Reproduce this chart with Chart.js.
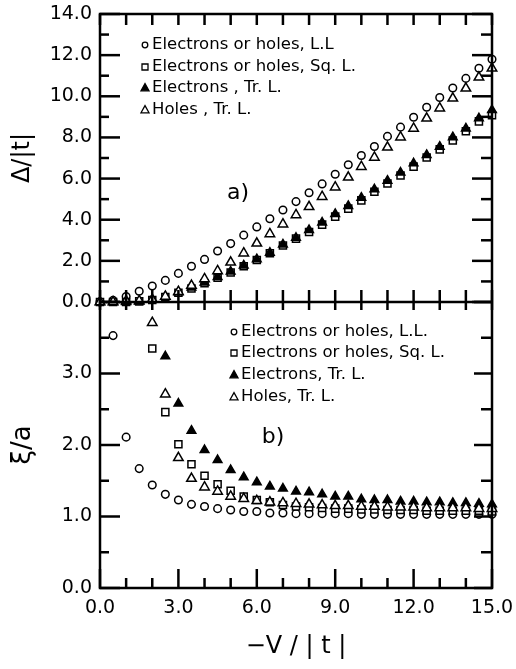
<!DOCTYPE html>
<html>
<head>
<meta charset="utf-8">
<script src="https://cdn.jsdelivr.net/npm/chart.js@4"></script>
<style>
  html, body { margin: 0; padding: 0; background: #fff; }
  canvas { display: block; }
</style>
</head>
<body>
<canvas id="myChart" width="516" height="669"></canvas>
<script>
// panel a) : gap vs -V/|t|
var xTop = [0, 0.5, 1, 1.5, 2, 2.5, 3, 3.5, 4, 4.5, 5, 5.5, 6, 6.5, 7, 7.5, 8, 8.5, 9, 9.5, 10, 10.5, 11, 11.5, 12, 12.5, 13, 13.5, 14, 14.5, 15];
var gapLL = [0, 0.08, 0.27, 0.52, 0.78, 1.05, 1.39, 1.74, 2.07, 2.48, 2.84, 3.25, 3.65, 4.05, 4.47, 4.88, 5.31, 5.74, 6.21, 6.67, 7.12, 7.56, 8.05, 8.5, 8.98, 9.47, 9.94, 10.4, 10.87, 11.36, 11.8];
var gapSq = [0, 0, 0, 0.03, 0.1, 0.24, 0.45, 0.66, 0.91, 1.18, 1.43, 1.74, 2.04, 2.37, 2.75, 3.08, 3.4, 3.76, 4.15, 4.54, 4.94, 5.36, 5.76, 6.15, 6.58, 7.02, 7.42, 7.85, 8.3, 8.78, 9.08];
var gapElTr = [0, 0, 0, 0.03, 0.12, 0.26, 0.47, 0.7, 0.95, 1.22, 1.48, 1.78, 2.08, 2.4, 2.8, 3.12, 3.5, 3.86, 4.28, 4.67, 5.07, 5.48, 5.9, 6.29, 6.74, 7.15, 7.55, 8.01, 8.44, 8.93, 9.33];
var gapHoTr = [0, 0, 0.05, 0.05, 0.12, 0.27, 0.5, 0.8, 1.12, 1.51, 1.93, 2.37, 2.85, 3.31, 3.78, 4.23, 4.63, 5.12, 5.58, 6.06, 6.58, 7.03, 7.52, 8.01, 8.44, 8.93, 9.42, 9.9, 10.39, 10.92, 11.36];

// panel b) : xi/a vs -V/|t|
var xLL = [0.5, 1, 1.5, 2, 2.5, 3, 3.5, 4, 4.5, 5, 5.5, 6, 6.5, 7, 7.5, 8, 8.5, 9, 9.5, 10, 10.5, 11, 11.5, 12, 12.5, 13, 13.5, 14, 14.5, 15];
var xiLL = [3.53, 2.11, 1.67, 1.44, 1.31, 1.23, 1.17, 1.14, 1.11, 1.09, 1.07, 1.07, 1.05, 1.05, 1.04, 1.04, 1.04, 1.04, 1.04, 1.03, 1.03, 1.03, 1.03, 1.03, 1.03, 1.03, 1.03, 1.03, 1.03, 1.03];
var xSq = [2, 2.5, 3, 3.5, 4, 4.5, 5, 5.5, 6, 6.5, 7, 7.5, 8, 8.5, 9, 9.5, 10, 10.5, 11, 11.5, 12, 12.5, 13, 13.5, 14, 14.5, 15];
var xiSq = [3.35, 2.46, 2.01, 1.73, 1.57, 1.45, 1.36, 1.28, 1.23, 1.2, 1.16, 1.14, 1.13, 1.12, 1.11, 1.11, 1.1, 1.1, 1.09, 1.09, 1.09, 1.08, 1.08, 1.08, 1.08, 1.08, 1.07];
var xElTr = [2.5, 3, 3.5, 4, 4.5, 5, 5.5, 6, 6.5, 7, 7.5, 8, 8.5, 9, 9.5, 10, 10.5, 11, 11.5, 12, 12.5, 13, 13.5, 14, 14.5, 15];
var xiElTr = [3.24, 2.58, 2.2, 1.93, 1.79, 1.65, 1.55, 1.48, 1.42, 1.39, 1.35, 1.34, 1.31, 1.28, 1.28, 1.24, 1.23, 1.23, 1.21, 1.21, 1.2, 1.2, 1.19, 1.19, 1.18, 1.17];
var xHoTr = [2, 2.5, 3, 3.5, 4, 4.5, 5, 5.5, 6, 6.5, 7, 7.5, 8, 8.5, 9, 9.5, 10, 10.5, 11, 11.5, 12, 12.5, 13, 13.5, 14, 14.5, 15];
var xiHoTr = [3.71, 2.71, 1.82, 1.53, 1.41, 1.35, 1.28, 1.25, 1.22, 1.2, 1.19, 1.18, 1.17, 1.16, 1.15, 1.15, 1.14, 1.14, 1.13, 1.13, 1.13, 1.12, 1.12, 1.12, 1.12, 1.11, 1.11];

var legendTop = ["Electrons or holes, L.L", "Electrons or holes, Sq. L.", "Electrons , Tr. L.", "Holes , Tr. L."];
var legendBot = ["Electrons or holes, L.L.", "Electrons or holes, Sq. L.", "Electrons, Tr. L.", "Holes, Tr. L."];

var FONT = "'DejaVu Sans', sans-serif";

function pts(xs, ys) {
    return xs.map(function (x, i) { return {x: x, y: ys[i]}; });
}

function ds(xs, ys, axis, style, filled, r, order) {
    return {
        data: pts(xs, ys),
        yAxisID: axis,
        pointStyle: style,
        pointRadius: r,
        pointBorderWidth: 1.5,
        pointBorderColor: "#000",
        pointBackgroundColor: filled ? "#000" : "#fff",
        showLine: false,
        clip: false,
        order: order
    };
}

function marker(ctx, style, filled, x, y, r) {
    ctx.beginPath();
    if (style === "circle") {
        ctx.arc(x, y, r, 0, Math.PI * 2);
    } else if (style === "rect") {
        ctx.rect(x - r, y - r, 2 * r, 2 * r);
    } else {
        ctx.moveTo(x, y - r * 1.1);
        ctx.lineTo(x + r, y + r * 0.7);
        ctx.lineTo(x - r, y + r * 0.7);
        ctx.closePath();
    }
    ctx.fillStyle = filled ? "#000" : "#fff";
    ctx.fill();
    ctx.lineWidth = 1.3;
    ctx.strokeStyle = "#000";
    ctx.stroke();
}

var frameTicks = {
    id: "frameTicks",
    afterDatasetsDraw: function (chart) {
        var ctx = chart.ctx, a = chart.chartArea;
        var sx = chart.scales.x, st = chart.scales.yTop, sb = chart.scales.yBot;
        var mid = sb.getPixelForValue(4);
        function line(x1, y1, x2, y2) {
            ctx.beginPath(); ctx.moveTo(x1, y1); ctx.lineTo(x2, y2); ctx.stroke();
        }
        ctx.save();
        ctx.strokeStyle = "#000";
        ctx.lineWidth = 2.5;
        ctx.strokeRect(a.left, a.top, a.right - a.left, a.bottom - a.top);
        line(a.left, mid, a.right, mid);
        for (var i = 0; i <= 15; i++) {
            var px = sx.getPixelForValue(i);
            line(px, a.top, px, a.top + 11);
            line(px, mid - 12, px, mid + 8);
            line(px, a.bottom, px, a.bottom - (i % 3 === 0 ? 19 : 10));
        }
        for (var v = 0; v <= 14; v++) {
            var py = st.getPixelForValue(v);
            line(a.left, py, a.left + (v % 2 === 0 ? 20 : 9), py);
            line(a.right, py, a.right - (v % 2 === 0 ? 20 : 11), py);
        }
        for (var w = 0; w <= 4; w += 0.5) {
            var qy = sb.getPixelForValue(w);
            line(a.left, qy, a.left + (w % 1 === 0 ? 20 : 9), qy);
            line(a.right, qy, a.right - (w % 1 === 0 ? 18 : 11), qy);
        }

        // legends and panel tags
        var styles = [["circle", false, 2.8], ["rect", false, 3], ["tri", true, 4], ["tri", false, 4]];
        ctx.font = "16.5px " + FONT;
        ctx.textBaseline = "middle";
        ctx.textAlign = "left";
        ctx.fillStyle = "#000";
        var topY = [45, 67, 88, 110];
        var botY = [332, 353, 375, 397];
        for (var k = 0; k < 4; k++) {
            marker(ctx, styles[k][0], styles[k][1], 145, topY[k], styles[k][2]);
            ctx.fillStyle = "#000";
            ctx.fillText(legendTop[k], 152, topY[k]);
            marker(ctx, styles[k][0], styles[k][1], 234, botY[k], styles[k][2]);
            ctx.fillStyle = "#000";
            ctx.fillText(legendBot[k], 241, botY[k]);
        }
        ctx.font = "22px " + FONT;
        ctx.textAlign = "center";
        ctx.fillText("a)", 238, 193);
        ctx.fillText("b)", 273, 437);
        ctx.restore();
    }
};

var tickFont = {family: FONT, size: 19};

function fixY(s) { s.width = 100; s.paddingTop = 0; s.paddingBottom = 0; }

new Chart("myChart", {
    type: "scatter",
    data: {
        datasets: [
            ds(xTop, gapLL, "yTop", "circle", false, 3.8, 4),
            ds(xTop, gapSq, "yTop", "rect", false, 5, 3),
            ds(xTop, gapElTr, "yTop", "triangle", true, 5, 2),
            ds(xTop, gapHoTr, "yTop", "triangle", false, 5.5, 1),
            ds(xLL, xiLL, "yBot", "circle", false, 3.8, 4),
            ds(xSq, xiSq, "yBot", "rect", false, 5, 3),
            ds(xElTr, xiElTr, "yBot", "triangle", true, 5, 2),
            ds(xHoTr, xiHoTr, "yBot", "triangle", false, 5.5, 1)
        ]
    },
    options: {
        responsive: false,
        animation: false,
        layout: {padding: {left: 0, right: 24, top: 14, bottom: 0}},
        plugins: {
            legend: {display: false},
            tooltip: {enabled: false}
        },
        scales: {
            x: {
                type: "linear", min: 0, max: 15,
                grid: {display: false, drawTicks: false},
                border: {display: false},
                ticks: {stepSize: 3, color: "#000", font: tickFont, padding: 9, autoSkip: false,
                    callback: function (v) { return v.toFixed(1); }},
                title: {display: true, text: "\u2212V / | t |", color: "#000",
                    font: {family: FONT, size: 24}, padding: {top: 6, bottom: 8}},
                afterFit: function (s) { s.height = 81; s.paddingLeft = 0; s.paddingRight = 0; }
            },
            yBot: {
                type: "linear", position: "left", stack: "panels", stackWeight: 286,
                min: 0, max: 4,
                grid: {display: false, drawTicks: false},
                border: {display: false},
                ticks: {stepSize: 1, color: "#000", font: tickFont, padding: 8, autoSkip: false,
                    callback: function (v) { return v === 4 ? "" : v.toFixed(1); }},
                title: {display: true, text: "\u03be/a", color: "#000",
                    font: {family: FONT, size: 26}, padding: {top: 8}},
                afterFit: fixY
            },
            yTop: {
                type: "linear", position: "left", stack: "panels", stackWeight: 288,
                min: 0, max: 14,
                grid: {display: false, drawTicks: false},
                border: {display: false},
                ticks: {stepSize: 2, color: "#000", font: tickFont, padding: 8, autoSkip: false,
                    callback: function (v) { return v.toFixed(1); }},
                title: {display: true, text: "\u0394/|t|", color: "#000",
                    font: {family: FONT, size: 24}, padding: {top: 8}},
                afterFit: fixY
            }
        }
    },
    plugins: [frameTicks]
});
</script>
</body>
</html>
